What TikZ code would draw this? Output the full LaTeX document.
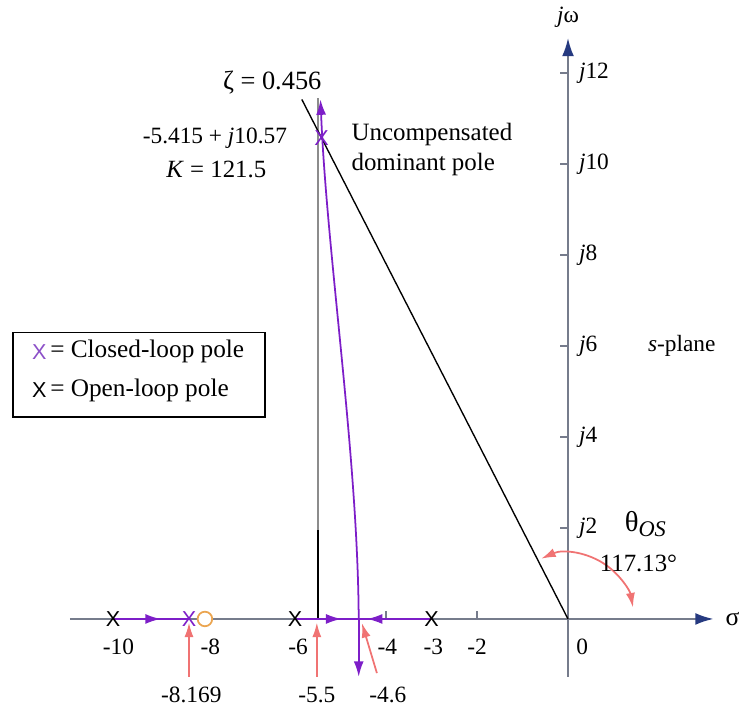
\documentclass[tikz,border=0pt]{standalone}
\usepackage{fontspec}
\setmainfont{Liberation Serif}
\newfontfamily\xfont{Liberation Sans}
\usetikzlibrary{arrows.meta}
\definecolor{axisgray}{RGB}{118,124,140}
\definecolor{axisblue}{RGB}{38,58,128}
\definecolor{locus}{RGB}{125,30,200}
\definecolor{legendviolet}{RGB}{140,80,200}
\definecolor{salmon}{RGB}{240,115,115}
\definecolor{zeroorange}{RGB}{235,165,80}
\definecolor{asymgray}{RGB}{140,140,140}
\begin{document}
\begin{tikzpicture}[x=1cm,y=1cm,
  font=\fontsize{14.6}{17.5}\selectfont,
  axisline/.style={draw=axisgray, line width=1.3pt, -{Latex[length=0.4cm,width=0.26cm,color=axisblue]}},
  locusline/.style={draw=locus, line width=1.1pt},
  locusarrow/.style={draw=locus, line width=1.1pt, -{Latex[length=0.34cm,width=0.22cm]}},
  redarrow/.style={draw=salmon, line width=1.1pt, -{Latex[length=0.32cm,width=0.2cm]}},
  xmark/.style={font=\xfont\fontsize{13.5}{13.5}\selectfont, inner sep=0pt},
  ticklabel/.style={inner sep=1pt},
  jtick/.style={draw=axisgray, line width=1pt}
]
\useasboundingbox (-12.484,-2.022) rectangle (3.802,13.604);

% axes
\coordinate (sl) at (-10.95,0);
\coordinate (sr) at (3.2,0);
\coordinate (wb) at (0,-1.27);
\coordinate (wt) at (0,12.77);
\coordinate (O) at (0,0);
\draw[axisline] (sl) -- (sr);
\draw[axisline] (wb) -- (wt);

% ticks on real axis
\foreach \t in {-4,-2} \draw[jtick] (\t,0) -- (\t,0.18);
% ticks on imaginary axis
\foreach \t in {2,4,...,12} \draw[jtick] (0,\t) -- (-0.18,\t);

% asymptote at -5.5
\coordinate (a0) at (-5.5,0);
\coordinate (a1) at (-5.5,1.95);
\coordinate (a2) at (-5.5,11.45);
\draw[asymgray, line width=1.1pt] (a1) -- (a2);
\draw[black, line width=1.1pt] (a0) -- (a1);

% zeta line
\coordinate (zt) at (117.13:12.83);
\draw[black, line width=0.85pt] (O) -- (zt);

% root locus on real axis
\coordinate (p10) at (-10,0);
\coordinate (cl8) at (-8.33,0);
\coordinate (p6) at (-6,0);
\coordinate (p3) at (-3,0);
\coordinate (bk) at (-4.6,0);
\draw[locusline] (p10) -- (cl8);
\draw[locusarrow] (p10) -- (-8.95,0);
\draw[locusline] (p6) -- (bk);
\draw[locusarrow] (p6) -- (-4.98,0);
\draw[locusline] (p3) -- (bk);
\draw[locusarrow] (p3) -- (-4.42,0);

% complex branch and down branch
\coordinate (lt) at (-5.44,11.42);
\coordinate (ld) at (-4.6,-1.27);
\draw[locusarrow] (bk) .. controls (-4.62,3.6) and (-5.3,8) .. (lt);
\draw[locusarrow] (bk) -- (ld);

% poles and zero
\node[xmark] (x10) at (p10) {X};
\node[xmark] (x6) at (p6) {X};
\node[xmark] (x3) at (p3) {X};
\node[xmark, text=locus] (xc8) at (cl8) {X};
\node[xmark, text=locus] (xct) at (-5.415,10.57) {X};
\node[draw=zeroorange, fill=white, circle, line width=1.1pt, minimum size=0.32cm, inner sep=0pt] (z8) at (-7.98,0) {};

% theta arc
\draw[salmon, line width=1.1pt, {Latex[length=0.32cm,width=0.2cm]}-{Latex[length=0.32cm,width=0.2cm]}]
  (114:1.45) arc[start angle=114, end angle=10, radius=1.45];

% red pointer arrows
\coordinate (r1s) at (-8.33,-1.27); \coordinate (r1e) at (-8.33,-0.08);
\coordinate (r2s) at (-5.52,-1.27); \coordinate (r2e) at (-5.52,-0.08);
\coordinate (r3s) at (-4.2,-1.19);  \coordinate (r3e) at (-4.53,-0.09);
\draw[redarrow] (r1s) -- (r1e);
\draw[redarrow] (r2s) -- (r2e);
\draw[redarrow] (r3s) -- (r3e);

% tick labels real axis
\node[ticklabel] (l10) at (-9.88,-0.62) {-10};
\node[ticklabel] (l8) at (-7.86,-0.62) {-8};
\node[ticklabel] (l6) at (-5.93,-0.62) {-6};
\node[ticklabel] (l4) at (-3.97,-0.62) {-4};
\node[ticklabel] (l3) at (-2.96,-0.62) {-3};
\node[ticklabel] (l2) at (-2.0,-0.62) {-2};
\node[ticklabel] (l0) at (0.31,-0.62) {0};

% tick labels imaginary axis
\foreach \t in {2,4,...,12}
  \node[ticklabel, anchor=west] (lj\t) at (0.2,\t) {\textit{j}\t};

% bottom labels
\node[ticklabel] (b1) at (-8.28,-1.67) {-8.169};
\node[ticklabel] (b2) at (-5.52,-1.67) {-5.5};
\node[ticklabel] (b3) at (-3.96,-1.67) {-4.6};

% axis names
\node[ticklabel] (jw) at (0,13.23) {\textit{j}ω};
\node[ticklabel, anchor=west] (sig) at (3.42,0) {\fontsize{16}{16}\selectfont σ};
\node[ticklabel] (splane) at (2.5,6.0) {\textit{s}-plane};

% theta labels
\node[ticklabel] (thos) at (1.7,2.08) {\fontsize{18}{18}\selectfont θ\raisebox{-0.35ex}{\fontsize{14}{14}\selectfont\textit{OS}}};
\node[ticklabel] (ang) at (1.55,1.22) {\fontsize{15.5}{15.5}\selectfont 117.13°};

% top labels
\node[ticklabel] (zeta) at (-6.5,11.8) {\fontsize{16.5}{16.5}\selectfont ζ = 0.456};
\node[ticklabel] (pole) at (-7.76,10.57) {-5.415 + \textit{j}10.57};
\node[ticklabel] (gain) at (-7.73,9.87) {\fontsize{15.5}{15.5}\selectfont\textit{K} = 121.5};
\node[ticklabel, anchor=west, align=left, font=\fontsize{15.6}{18.5}\selectfont] (unc) at (-4.8,10.32) {Uncompensated\\dominant pole};

% legend
\draw[black, line width=0.8pt] (-12.2,4.44) rectangle (-6.66,6.29);
\node[xmark, text=legendviolet] (lgx1) at (-11.62,5.87) {X};
\node[anchor=west, inner sep=1pt, font=\fontsize{15.8}{18}\selectfont] (lg1) at (-11.42,5.87) {= Closed-loop pole};
\node[xmark] (lgx2) at (-11.62,5.03) {X};
\node[anchor=west, inner sep=1pt, font=\fontsize{15.8}{18}\selectfont] (lg2) at (-11.42,5.03) {= Open-loop pole};
\end{tikzpicture}
\end{document}
